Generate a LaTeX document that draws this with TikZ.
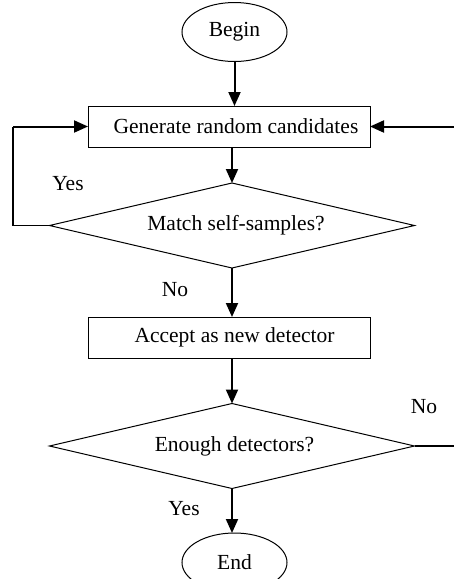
\documentclass[tikz,border=0pt]{standalone}
\usepackage{fontspec}
\setmainfont{Liberation Serif}
\usetikzlibrary{shapes.geometric,arrows.meta}
\begin{document}
\begin{tikzpicture}[x=1pt,y=-1pt,
  every node/.style={font=\fontsize{21.5}{25}\selectfont},
  proc/.style={draw,line width=1pt,minimum width=282pt,minimum height=41pt,inner sep=0pt,outer sep=0pt},
  term/.style={draw,ellipse,line width=1pt,minimum width=105pt,minimum height=59pt,inner sep=0pt,outer sep=0pt},
  dec/.style={draw,diamond,aspect=4.3,line width=1pt,minimum width=365pt,minimum height=85pt,inner sep=0pt,outer sep=0pt},
  flow/.style={line width=2pt,-{Triangle[length=14pt,width=12pt]}},
  loop/.style={line width=1.2pt},
  lbl/.style={inner sep=0pt}]
\useasboundingbox (0,0) rectangle (454,579);
\node[term] (begin) at (234.5,32) {Begin};
\node[proc] (gen) at (229,126.5) {\hspace*{14pt}Generate random candidates};
\node[dec] (d1) at (232,225.5) {\hspace*{8pt}Match self-samples?};
\node[proc] (acc) at (229,337.5) {\hspace*{11pt}Accept as new detector};
\node[dec] (d2) at (232,446) {\hspace*{5pt}Enough detectors?};
\node[term] (end) at (234.5,562.5) {End};
\coordinate (lc) at (13,225.5);
\coordinate (rin) at (454,126.5);
\coordinate (rout) at (454,446);
\draw[flow] (begin.south) -- (begin.south |- gen.north);
\draw[flow] (d1.north |- gen.south) -- (d1.north);
\draw[flow] (d1.south) -- (d1.south |- acc.north);
\draw[flow] (d2.north |- acc.south) -- (d2.north);
\draw[flow] (d2.south) -- (d2.south |- end.north);
\draw[loop] (d1.west) -- (lc) -- (lc |- gen.west);
\draw[flow] (lc |- gen.west) -- (gen.west);
\draw[flow] (rin) -- (gen.east);
\draw[loop] (d2.east) -- (rout);
\node[lbl] (y1) at (68,184) {Yes};
\node[lbl] (n1) at (175,290) {No};
\node[lbl] (n2) at (424,407) {No};
\node[lbl] (y2) at (184,509) {Yes};
\end{tikzpicture}
\end{document}
